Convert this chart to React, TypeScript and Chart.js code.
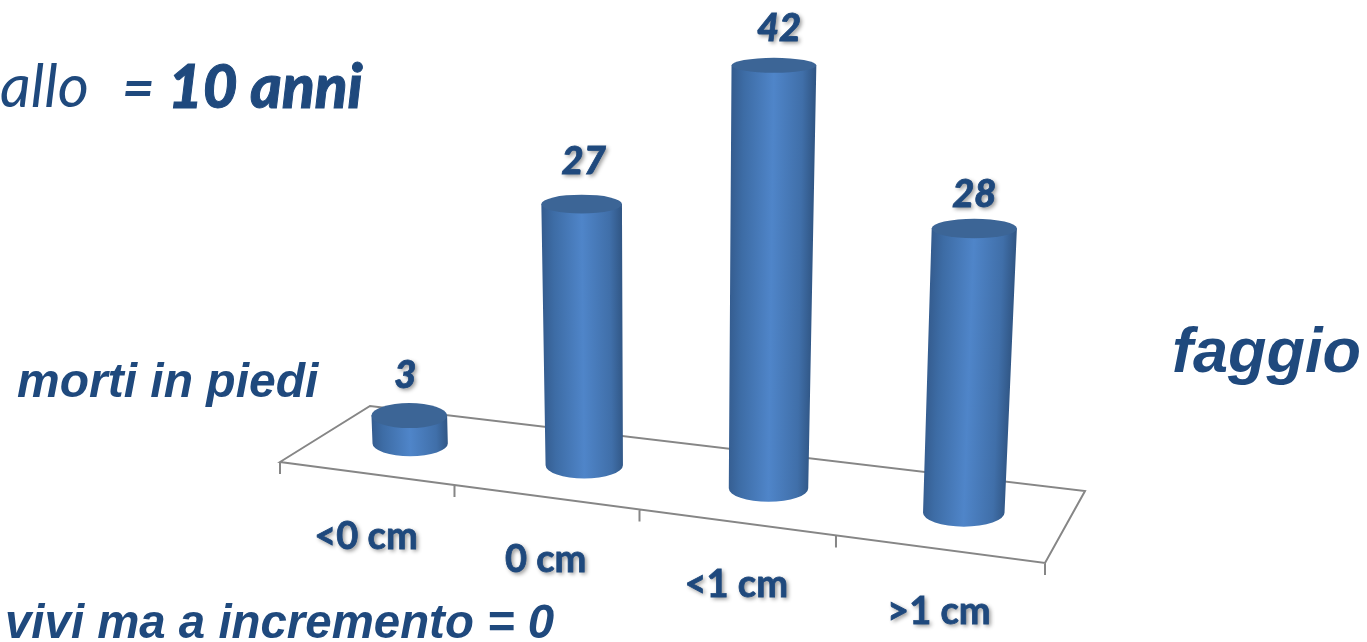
import React, { useEffect, useRef } from "react";
import { Chart, registerables } from "chart.js";

Chart.register(...registerables);

const categories = ["<0 cm", "0 cm", "<1 cm", ">1 cm"];
const counts = [3, 27, 42, 28];

const INK = "#1f497d";
const ARIAL = '"Liberation Sans"';
const LATO = "Lato";

// Corners of the floor as seen by the camera: front-left, front-right, back-right, back-left.
const FLOOR = [
  [280, 462],
  [1045, 563],
  [1085, 491],
  [370, 406],
];

// Nudges of the value labels relative to the top of each cylinder.
const valueLabelShift = [
  [-4, -40],
  [2, -42],
  [5, -37],
  [0, -34],
];

// Square-to-quad homography for the floor plane.
function makeFloor() {
  const [[x0, y0], [x1, y1], [x2, y2], [x3, y3]] = FLOOR;
  const dx1 = x1 - x2, dx2 = x3 - x2, sx = x0 - x1 + x2 - x3;
  const dy1 = y1 - y2, dy2 = y3 - y2, sy = y0 - y1 + y2 - y3;
  const den = dx1 * dy2 - dx2 * dy1;
  const g = (sx * dy2 - dx2 * sy) / den;
  const h = (dx1 * sy - sx * dy1) / den;
  const a = x1 - x0 + g * x1, b = x3 - x0 + h * x3;
  const d = y1 - y0 + g * y1, e = y3 - y0 + h * y3;
  return (t: number, v: number) => {
    // Slightly eases the foreshortening along the floor's long side.
    const u = t + 0.02 * t * (1 - t);
    const w = g * u + h * v + 1;
    return { x: (a * u + b * v + x0) / w, y: (d * u + e * v + y0) / w };
  };
}
const floorAt = makeFloor();

// The ellipse flattens as it climbs towards the eye line.
const ellipseRy = (y: number) => 6.5 + 0.0145 * y;

function drawCylinder(ctx: CanvasRenderingContext2D, u: number, halfWidth: number, rise: number) {
  const base = floorAt(u, 0.5);
  const rxBase = halfWidth * (1 + (u - 0.5) * 0.105);
  const height = rise * Math.min(1.015, 0.967 + (u - 0.375) * 0.16);
  const topY = base.y - height;
  const topX = base.x + (base.x - 665) * 1.24e-4 * height;
  const rxTop = rxBase * (1 + 0.00016 * height);
  const ryTop = ellipseRy(topY);
  const ryBase = ellipseRy(base.y);
  const rxMid = (rxBase + rxTop) / 2;

  ctx.save();
  ctx.beginPath();
  ctx.moveTo(base.x - rxBase, base.y);
  ctx.lineTo(topX - rxTop, topY);
  ctx.lineTo(topX + rxTop, topY);
  ctx.lineTo(base.x + rxBase, base.y);
  ctx.ellipse(base.x, base.y, rxBase, ryBase, 0, 0, Math.PI);
  ctx.closePath();
  ctx.clip();
  // Shear the shading so its bands follow the leaning sides.
  const shear = (topX - base.x) / (topY - base.y);
  ctx.transform(1, 0, shear, 1, -shear * base.y, 0);
  const grad = ctx.createLinearGradient(base.x - rxMid, 0, base.x + rxMid, 0);
  grad.addColorStop(0, "#355d90");
  grad.addColorStop(0.14, "#3d6ca5");
  grad.addColorStop(0.5, "#4f85c9");
  grad.addColorStop(0.85, "#406fa9");
  grad.addColorStop(1, "#315786");
  ctx.fillStyle = grad;
  ctx.fillRect(base.x - rxMid - 10, topY - 20, rxMid * 2 + 20, height + 60);
  ctx.restore();

  ctx.beginPath();
  ctx.ellipse(topX, topY, rxTop, ryTop, 0, 0, Math.PI * 2);
  ctx.fillStyle = "#3c6596";
  ctx.fill();

  return { x: topX, y: topY };
}

function shadowText(ctx: CanvasRenderingContext2D, s: string, x: number, y: number, font: string) {
  ctx.save();
  ctx.font = font;
  ctx.fillStyle = INK;
  ctx.strokeStyle = INK;
  ctx.lineWidth = 0.8;
  ctx.textAlign = "center";
  ctx.textBaseline = "middle";
  ctx.shadowColor = "rgba(0,0,0,0.45)";
  ctx.shadowBlur = 4;
  ctx.shadowOffsetX = 2;
  ctx.shadowOffsetY = 2;
  ctx.fillText(s, x, y);
  ctx.shadowColor = "transparent";
  ctx.strokeText(s, x, y);
  ctx.restore();
}

const perspectiveBars = {
  id: "perspectiveBars",
  // Frame, ticks and category labels sit under the bars.
  beforeDatasetsDraw(chart: Chart) {
    const ctx = chart.ctx;
    const labels = chart.data.labels as string[];
    const n = labels.length;
    ctx.save();
    ctx.strokeStyle = "#868686";
    ctx.lineWidth = 2;
    ctx.beginPath();
    FLOOR.forEach(([x, y], i) => (i ? ctx.lineTo(x, y) : ctx.moveTo(x, y)));
    ctx.closePath();
    for (let i = 0; i <= n; i++) {
      const p = floorAt(i / n, 0);
      ctx.moveTo(p.x, p.y);
      ctx.lineTo(p.x, p.y + 12);
    }
    ctx.stroke();
    ctx.restore();
    labels.forEach((label, i) => {
      const p = floorAt((i + 0.5) / n, 0);
      shadowText(ctx, label, p.x, p.y + 63, `bold 38px ${LATO}`);
    });
  },
  // Bars are replaced with projected cylinders driven by the bar elements' geometry.
  beforeDatasetDraw(chart: Chart, args: any) {
    const ctx = chart.ctx;
    const { left, width } = chart.chartArea;
    const values = chart.data.datasets[args.index].data as number[];
    args.meta.data.forEach((el: any, i: number) => {
      const top = drawCylinder(ctx, (el.x - left) / width, el.width / 2, el.base - el.y);
      const [dx, dy] = valueLabelShift[i];
      shadowText(ctx, String(values[i]), top.x + dx, top.y + dy, `italic 900 38px ${LATO}`);
    });
    return false;
  },
  afterDraw(chart: Chart) {
    const ctx = chart.ctx;
    ctx.save();
    ctx.fillStyle = INK;
    ctx.strokeStyle = INK;
    ctx.textBaseline = "alphabetic";
    ctx.font = `italic 60px ${LATO}`;
    ctx.fillText("allo", 0, 107);
    ctx.font = `italic bold 56px ${LATO}`;
    ctx.fillText("=", 122, 107);
    ctx.font = `italic 900 60px ${LATO}`;
    ctx.lineWidth = 1;
    ctx.fillText("10 anni", 168, 108);
    ctx.strokeText("10 anni", 168, 108);
    ctx.font = `italic bold 48px ${ARIAL}`;
    ctx.fillText("morti in piedi", 17, 397);
    ctx.font = `italic bold 47.4px ${ARIAL}`;
    ctx.fillText("vivi ma a incremento = 0", 5, 638);
    ctx.font = `italic bold 63px ${ARIAL}`;
    ctx.fillText("faggio", 1172, 372);
    ctx.restore();
  },
};

export default function App() {
  const ref = useRef<HTMLCanvasElement>(null);
  useEffect(() => {
    document.body.style.margin = "0";
    const chart = new Chart(ref.current!, {
      type: "bar",
      data: {
        labels: categories,
        datasets: [{ data: counts, barPercentage: 0.41, categoryPercentage: 1 }],
      },
      options: {
        responsive: false,
        animation: false,
        layout: { padding: { left: 280, right: 322, top: 0, bottom: 142 } },
        plugins: { legend: { display: false }, tooltip: { enabled: false }, title: { display: false } },
        scales: {
          x: { display: false },
          y: { display: false, min: 0, max: 50 },
        },
      },
      plugins: [perspectiveBars],
    } as any);
    return () => chart.destroy();
  }, []);
  return <canvas ref={ref} width={1367} height={642} style={{ display: "block", background: "#fff" }} />;
}
